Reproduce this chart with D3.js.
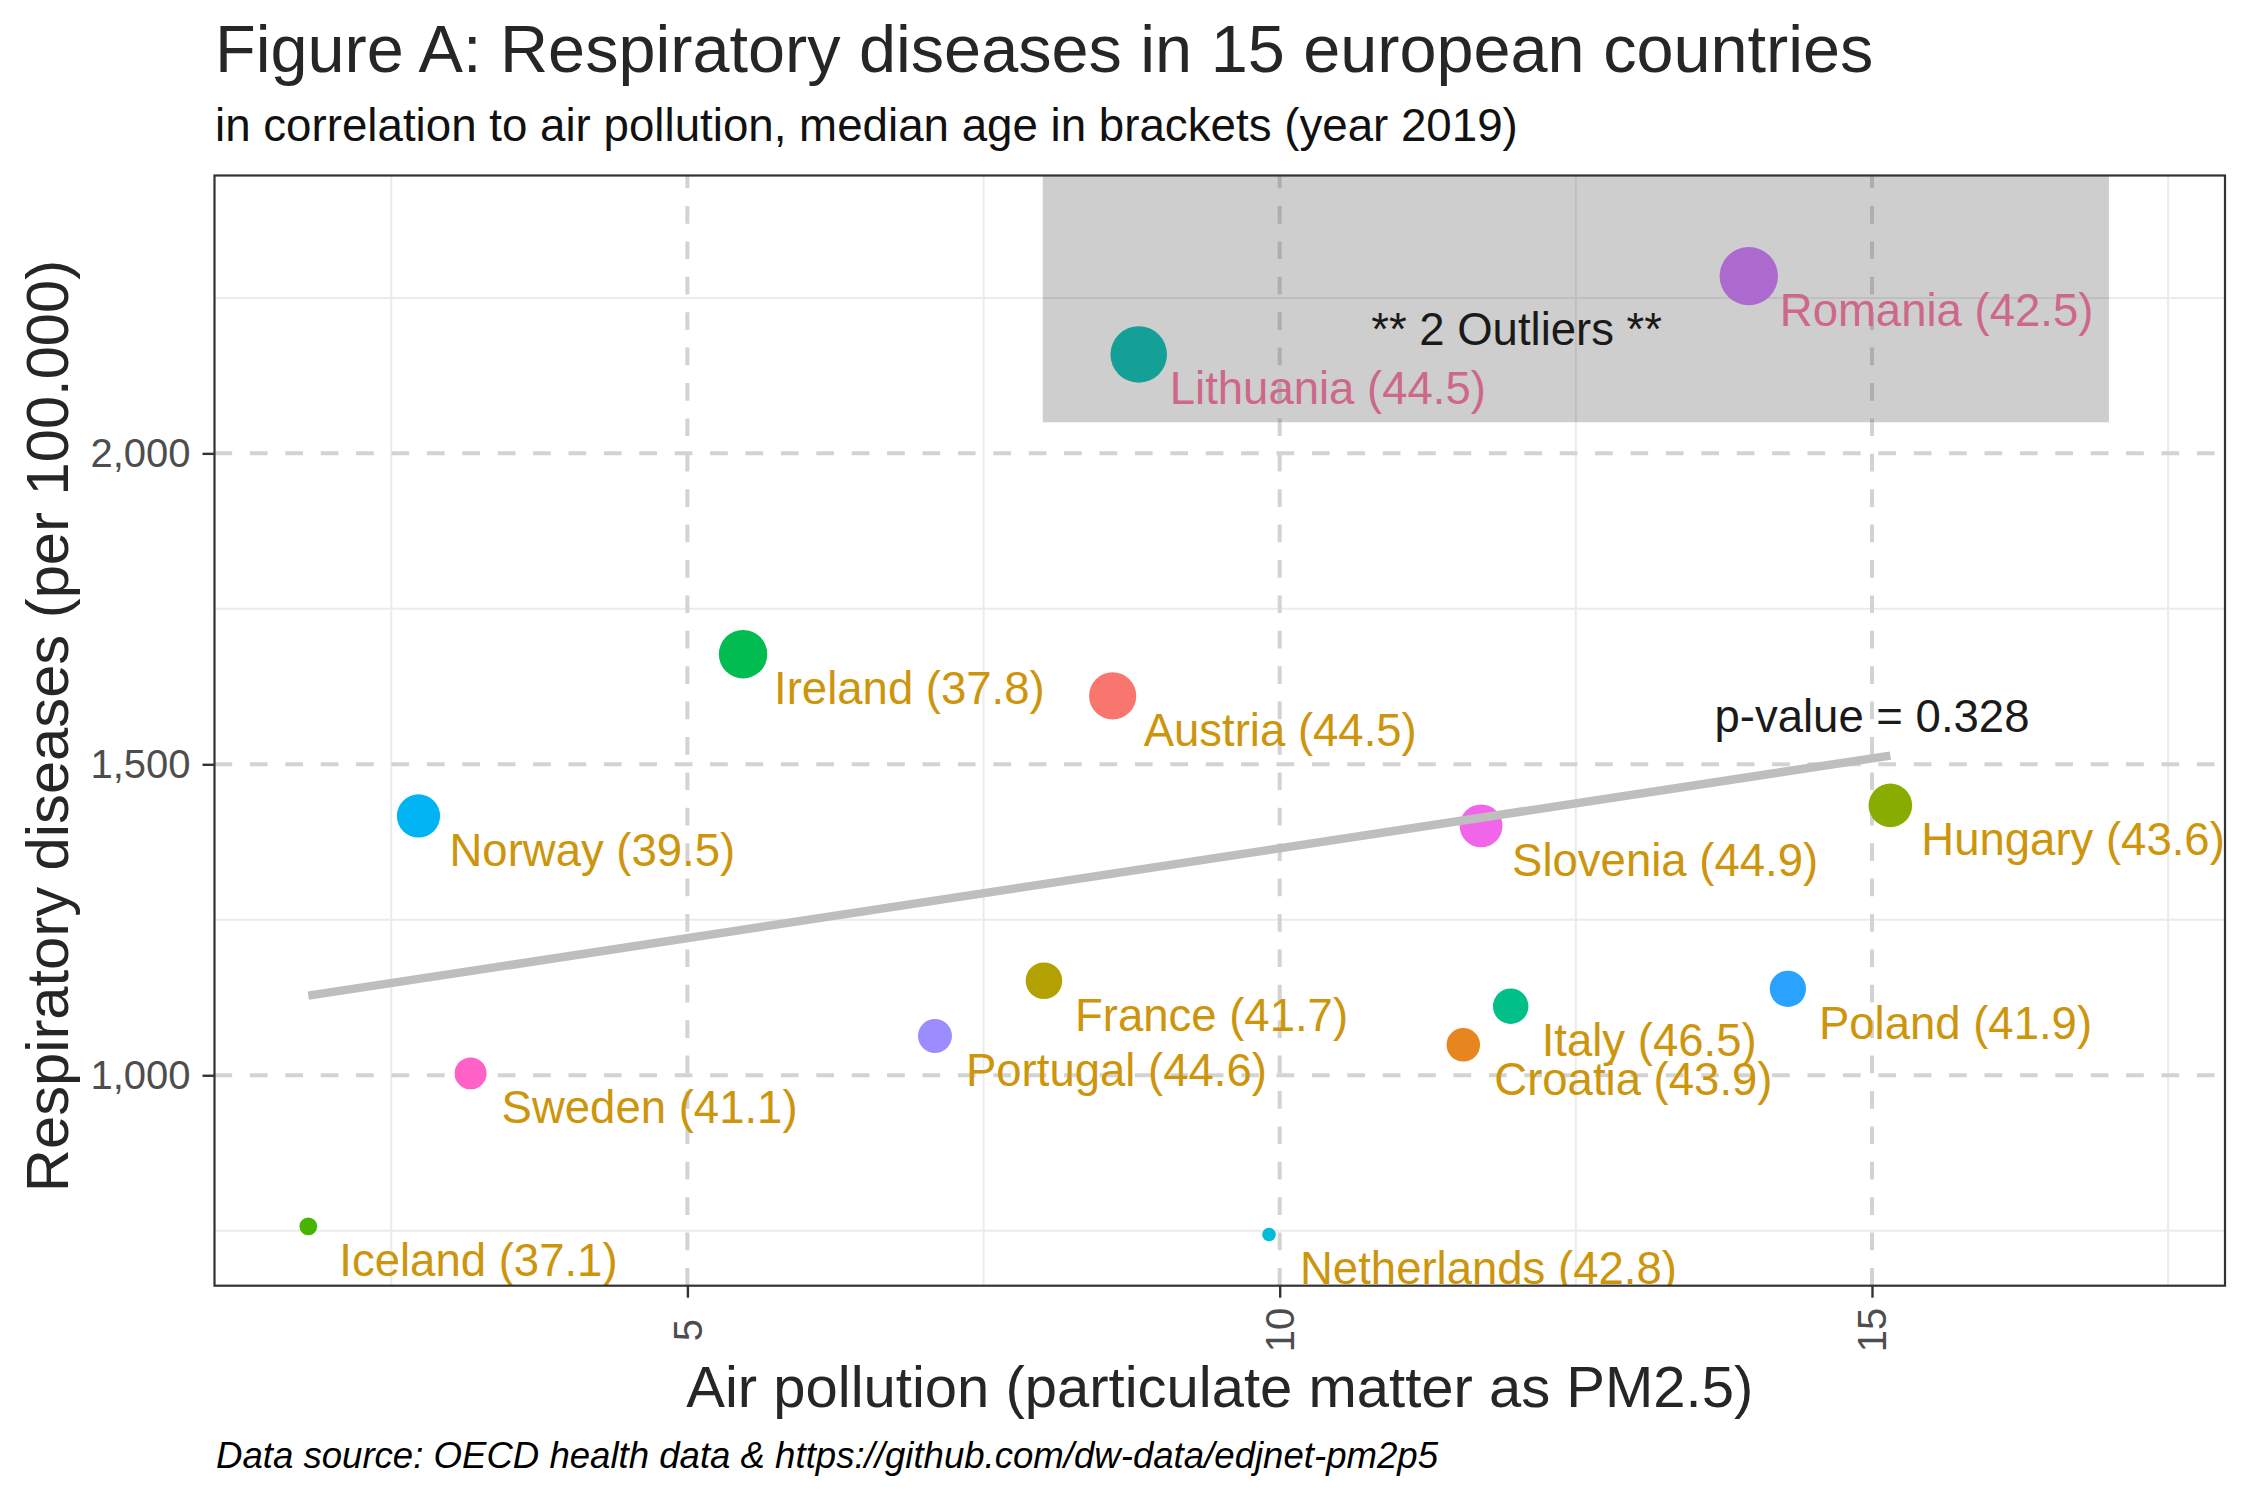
<!DOCTYPE html>
<html>
<head>
<meta charset="utf-8">
<script src="https://cdn.jsdelivr.net/npm/d3@7"></script>
<style>
  html, body { margin: 0; padding: 0; background: #ffffff; }
  svg { display: block; }
  text { font-family: "Liberation Sans", Arial, Helvetica, sans-serif; }
</style>
</head>
<body>
<svg id="chart" width="2250" height="1500"></svg>
<script>
// ---------------- DATA ----------------
const countries   = ["Austria", "Croatia", "France", "Hungary", "Iceland", "Ireland", "Italy", "Lithuania",
                     "Netherlands", "Norway", "Poland", "Portugal", "Romania", "Slovenia", "Sweden"];
const pm25        = [8.59, 11.55, 8.01, 15.155, 1.80, 5.47, 11.95, 8.81, 9.91, 2.73, 14.29, 7.09, 13.96, 11.70, 3.17];
const respiratory = [1610, 1049, 1152, 1434, 757, 1677, 1111, 2159, 744, 1417, 1139, 1063, 2285, 1401, 1003];
const medianAge   = [44.5, 43.9, 41.7, 43.6, 37.1, 37.8, 46.5, 44.5, 42.8, 39.5, 41.9, 44.6, 42.5, 44.9, 41.1];
const outliers    = ["Lithuania", "Romania"];
const countryColors = ["#F8766D", "#E7851E", "#B2A100", "#89AC00", "#45B500", "#00BC51", "#00C087", "#00C0B2",
                       "#00BCD6", "#00B3F2", "#29A3FF", "#9C8DFF", "#D277FF", "#F166E8", "#FF61C7"];
// fitted trend line (start and end)
const fitX = [1.80, 15.155];
const fitY = [1128, 1514];
// axes
const xTicks = [5, 10, 15];
const xMinorTicks = [2.5, 7.5, 12.5, 17.5];
const yTicks = [1000, 1500, 2000];
const yMinorTicks = [750, 1250, 1750, 2250];
// annotations (data units)
const outlierBoxX = [8, 17];
const outlierBoxYmin = 2050;
const outlierNote = { x: 12, y: 2200, text: "** 2 Outliers **" };
const pValueNote  = { x: 15, y: 1578, text: "p-value = 0.328" };
// texts
const titleText    = "Figure A: Respiratory diseases in 15 european countries";
const subtitleText = "in correlation to air pollution, median age in brackets (year 2019)";
const xTitleText   = "Air pollution (particulate matter as PM2.5)";
const yTitleText   = "Respiratory diseases (per 100.000)";
const captionText  = "Data source: OECD health data & https://github.com/dw-data/edjnet-pm2p5";

// ---------------- LAYOUT ----------------
const P = { left: 214.5, right: 2225, top: 175.5, bottom: 1285.7 };
const svg = d3.select("#chart");

const x = d3.scaleLinear().domain([1.008, 17.98]).range([P.left, P.right]);
const y = d3.scaleLinear().domain([661.6, 2446.8]).range([P.bottom, P.top]);

const respExtent = d3.extent(respiratory);
const tSize = d3.scaleLinear().domain(respExtent).range([0, 1]);
const rScale = v => 6.8 + 22.4 * Math.sqrt(Math.max(0, tSize(v)));

const data = countries.map((c, i) => ({
  country: c, x: pm25[i], y: respiratory[i], age: medianAge[i],
  color: countryColors[i], outlier: outliers.includes(c)
}));

svg.append("rect").attr("width", 2250).attr("height", 1500).attr("fill", "#ffffff");

svg.append("defs").append("clipPath").attr("id", "panelClip")
  .append("rect").attr("x", P.left).attr("y", P.top)
  .attr("width", P.right - P.left).attr("height", P.bottom - P.top);

const panel = svg.append("g").attr("clip-path", "url(#panelClip)");

// minor grid
panel.selectAll(".xminor").data(xMinorTicks).join("line")
  .attr("x1", d => x(d)).attr("x2", d => x(d))
  .attr("y1", P.bottom).attr("y2", P.top)
  .attr("stroke", "#EBEBEB").attr("stroke-width", 2);
panel.selectAll(".yminor").data(yMinorTicks).join("line")
  .attr("y1", d => y(d)).attr("y2", d => y(d))
  .attr("x1", P.left).attr("x2", P.right)
  .attr("stroke", "#EBEBEB").attr("stroke-width", 2);

// major grid (dashed)
panel.selectAll(".xmajor").data(xTicks).join("line")
  .attr("x1", d => x(d)).attr("x2", d => x(d))
  .attr("y1", P.bottom).attr("y2", P.top)
  .attr("stroke", "#D3D3D3").attr("stroke-width", 4)
  .attr("stroke-dasharray", "17.7,17.7");
panel.selectAll(".ymajor").data(yTicks).join("line")
  .attr("y1", d => y(d)).attr("y2", d => y(d))
  .attr("x1", P.left).attr("x2", P.right)
  .attr("stroke", "#D3D3D3").attr("stroke-width", 4)
  .attr("stroke-dasharray", "17.7,17.7");

// points
panel.selectAll(".pt").data(data).join("circle")
  .attr("cx", d => x(d.x)).attr("cy", d => y(d.y))
  .attr("r", d => rScale(d.y))
  .attr("fill", d => d.color);

// trend line
const fitData = fitX.map((v, i) => [v, fitY[i]]);
panel.append("path")
  .attr("d", d3.line().x(d => x(d[0])).y(d => y(d[1]))(fitData))
  .attr("fill", "none").attr("stroke", "#BEBEBE").attr("stroke-width", 8.5);

// outlier box
panel.append("rect")
  .attr("x", x(outlierBoxX[0])).attr("width", x(outlierBoxX[1]) - x(outlierBoxX[0]))
  .attr("y", P.top).attr("height", y(outlierBoxYmin) - P.top)
  .attr("fill", "#4a4a4a").attr("fill-opacity", 0.27);

// labels
panel.selectAll(".lbl").data(data).join("text")
  .attr("x", d => x(d.x) + 31).attr("y", d => y(d.y) + 50)
  .attr("font-size", 45.5)
  .attr("fill", d => d.outlier ? "#CD6889" : "#CD950C")
  .text(d => `${d.country} (${d.age})`);

// annotations
panel.append("text")
  .attr("x", x(outlierNote.x)).attr("y", y(outlierNote.y)).attr("dy", "0.35em")
  .attr("text-anchor", "middle").attr("font-size", 45.5).attr("fill", "#1a1a1a")
  .text(outlierNote.text);
panel.append("text")
  .attr("x", x(pValueNote.x)).attr("y", y(pValueNote.y)).attr("dy", "0.35em")
  .attr("text-anchor", "middle").attr("font-size", 45.5).attr("fill", "#1a1a1a")
  .text(pValueNote.text);

// panel border
svg.append("rect")
  .attr("x", P.left).attr("y", P.top)
  .attr("width", P.right - P.left).attr("height", P.bottom - P.top)
  .attr("fill", "none").attr("stroke", "#333333").attr("stroke-width", 2.2);

// axes
const yAxis = svg.append("g").attr("transform", `translate(${P.left},0)`)
  .call(d3.axisLeft(y).tickValues(yTicks).tickFormat(d3.format(",")).tickSize(12).tickPadding(12));
const xAxis = svg.append("g").attr("transform", `translate(0,${P.bottom})`)
  .call(d3.axisBottom(x).tickValues(xTicks).tickFormat(d3.format("d")).tickSize(12));
[yAxis, xAxis].forEach(g => {
  g.select(".domain").remove();
  g.selectAll(".tick line").attr("stroke", "#333333").attr("stroke-width", 2.4);
  g.selectAll(".tick text").attr("fill", "#4D4D4D").attr("font-size", 40)
    .attr("font-family", "\"Liberation Sans\", Arial, Helvetica, sans-serif");
});
xAxis.selectAll(".tick text")
  .attr("y", 0).attr("dy", "0.35em")
  .attr("transform", "translate(0,44.3) rotate(-90)")
  .attr("text-anchor", "middle");

// titles
svg.append("text").attr("x", 215).attr("y", 72)
  .attr("font-size", 66.6).attr("fill", "#262626").text(titleText);
svg.append("text").attr("x", 215).attr("y", 141)
  .attr("font-size", 45.7).attr("fill", "#111111").text(subtitleText);
svg.append("text")
  .attr("x", (P.left + P.right) / 2).attr("y", 1407)
  .attr("text-anchor", "middle").attr("font-size", 58).attr("fill", "#262626")
  .text(xTitleText);
svg.append("text")
  .attr("transform", `translate(68,726) rotate(-90)`)
  .attr("text-anchor", "middle").attr("font-size", 59.7).attr("fill", "#262626")
  .text(yTitleText);
svg.append("text").attr("x", 216).attr("y", 1468)
  .attr("font-size", 36.6).attr("font-style", "italic").attr("fill", "#000000")
  .text(captionText);
</script>
</body>
</html>
